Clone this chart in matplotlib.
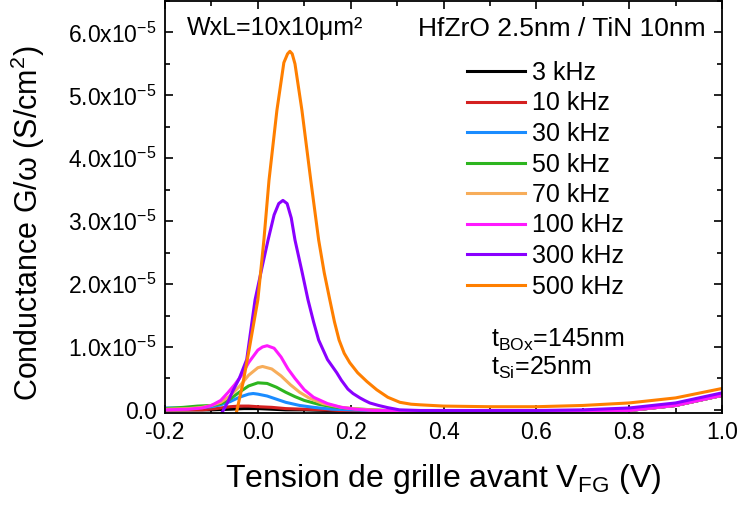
import matplotlib
matplotlib.use("Agg")
import matplotlib.pyplot as plt
from matplotlib.ticker import MultipleLocator, FuncFormatter

plt.rcParams['font.family'] = ['Liberation Sans', 'DejaVu Sans']
plt.rcParams['mathtext.fontset'] = 'custom'
plt.rcParams['mathtext.rm'] = 'Liberation Sans'
plt.rcParams['mathtext.it'] = 'Liberation Sans:italic'
plt.rcParams['mathtext.bf'] = 'Liberation Sans:bold'

# G/omega in units of 1e-5 S/cm2
labels = ['3 kHz', '10 kHz', '30 kHz', '50 kHz', '70 kHz', '100 kHz', '300 kHz', '500 kHz']
colors = ['#000000', '#d42020', '#1a8cff', '#2db51f', '#f7ad5a', '#ff19ff', '#8a00ff', '#ff7f00']

tail_v = [0.4, 0.5, 0.6, 0.7, 0.8, 0.9, 1.0]
tail_low = [-0.02, -0.02, -0.02, -0.02, -0.01, 0.07, 0.23]

v_3k = [-0.2, -0.1, -0.06, -0.03, 0.0, 0.03, 0.06, 0.1, 0.2, 0.3] + tail_v
g_3k = [0.0, 0.0, 0.01, 0.02, 0.02, 0.01, 0.0, 0.0, -0.02, -0.02] + tail_low

v_10k = [-0.2, -0.12, -0.09, -0.06, -0.04, -0.02, 0.0, 0.03, 0.06, 0.1, 0.15, 0.2, 0.3] + tail_v
g_10k = [0.0, 0.0, 0.02, 0.05, 0.06, 0.06, 0.05, 0.04, 0.02, 0.01, 0.0, -0.02, -0.02] + tail_low

v_30k = [-0.2, -0.15, -0.12, -0.1, -0.08, -0.06, -0.04, -0.02, -0.01, 0.0, 0.02, 0.04, 0.06,
         0.09, 0.12, 0.16, 0.2, 0.3] + tail_v
g_30k = [0.03, 0.03, 0.04, 0.05, 0.08, 0.13, 0.2, 0.25, 0.26, 0.25, 0.22, 0.17, 0.12,
         0.07, 0.04, 0.01, 0.0, -0.02] + tail_low

v_50k = [-0.2, -0.16, -0.13, -0.1, -0.08, -0.06, -0.04, -0.02, 0.0, 0.02, 0.04, 0.06,
         0.08, 0.1, 0.13, 0.16, 0.2, 0.25, 0.3] + tail_v
g_50k = [0.02, 0.04, 0.06, 0.07, 0.1, 0.17, 0.28, 0.38, 0.43, 0.42, 0.36, 0.28,
         0.21, 0.15, 0.09, 0.05, 0.02, 0.0, -0.02] + tail_low

v_70k = [-0.2, -0.15, -0.12, -0.1, -0.08, -0.06, -0.04, -0.02, 0.0, 0.01, 0.03, 0.05,
         0.07, 0.09, 0.11, 0.14, 0.18, 0.22, 0.3] + tail_v
g_70k = [0.01, 0.02, 0.04, 0.07, 0.12, 0.22, 0.37, 0.55, 0.67, 0.69, 0.65, 0.54,
         0.4, 0.28, 0.19, 0.1, 0.04, 0.01, -0.02] + tail_low

v_100k = [-0.2, -0.15, -0.12, -0.1, -0.08, -0.065, -0.05, -0.035, -0.02, 0.0, 0.01, 0.02, 0.035,
          0.05, 0.065, 0.08, 0.1, 0.12, 0.15, 0.18, 0.21, 0.25, 0.3] + tail_v
g_100k = [0.0, 0.01, 0.03, 0.07, 0.15, 0.27, 0.4, 0.55, 0.75, 0.95, 1.0, 1.02, 0.98,
          0.84, 0.65, 0.5, 0.32, 0.2, 0.1, 0.04, 0.01, -0.01, -0.01] + tail_low

v_300k = [-0.09, -0.077, -0.065, -0.056, -0.04, -0.024, -0.006, 0.01, 0.022, 0.035, 0.045,
          0.054, 0.063, 0.072, 0.08, 0.095, 0.108, 0.12, 0.131, 0.15, 0.17, 0.18, 0.194,
          0.205, 0.22, 0.23, 0.241, 0.26, 0.28, 0.305, 0.35, 0.4, 0.5, 0.6, 0.7, 0.8, 0.9, 1.0]
g_300k = [-0.2, -0.04, 0.12, 0.27, 0.5, 0.8, 1.75, 2.3, 2.7, 3.1, 3.28,
          3.33, 3.28, 3.05, 2.7, 2.2, 1.75, 1.4, 1.11, 0.8, 0.59, 0.47, 0.33,
          0.26, 0.19, 0.15, 0.11, 0.07, 0.035, 0.0, -0.01, -0.01, -0.01, -0.01, 0.0, 0.03, 0.11, 0.27]

v_500k = [-0.06, -0.047, -0.032, -0.019, 0.0, 0.013, 0.024, 0.041, 0.056, 0.064, 0.069,
          0.074, 0.08, 0.095, 0.114, 0.131, 0.143, 0.155, 0.165, 0.175, 0.186, 0.198, 0.215,
          0.235, 0.256, 0.28, 0.306, 0.33, 0.35, 0.4, 0.5, 0.6, 0.7, 0.8, 0.9, 1.0]
g_500k = [-0.3, -0.07, 0.43, 0.95, 1.75, 2.7, 3.65, 4.76, 5.52, 5.66, 5.7,
          5.66, 5.5, 4.76, 3.65, 2.7, 2.18, 1.75, 1.4, 1.11, 0.9, 0.75, 0.59,
          0.45, 0.32, 0.2, 0.12, 0.09, 0.08, 0.06, 0.05, 0.05, 0.07, 0.11, 0.19, 0.34]

volts = [v_3k, v_10k, v_30k, v_50k, v_70k, v_100k, v_300k, v_500k]
conds = [g_3k, g_10k, g_30k, g_50k, g_70k, g_100k, g_300k, g_500k]

fig = plt.figure(figsize=(7.41, 5.09), dpi=100)
ax = fig.add_axes([0.2227, 0.1886, 0.7517, 0.8094])

for v, g, lab, c in zip(volts, conds, labels, colors):
    ax.plot(v, [x * 1e-5 for x in g], color=c, lw=2.2, label=lab)

ax.set_xlim(-0.2, 1.0)
ax.set_ylim(-0.05e-5, 6.5e-5)
ax.xaxis.set_major_locator(MultipleLocator(0.2))
ax.xaxis.set_minor_locator(MultipleLocator(0.1))
ax.yaxis.set_major_locator(MultipleLocator(1e-5))
ax.yaxis.set_minor_locator(MultipleLocator(0.5e-5))


def yfmt(val, pos):
    n = val / 1e-5
    if abs(n) < 1e-9:
        return '0.0'
    return '%.1fx10$^{-5}$' % n


ax.yaxis.set_major_formatter(FuncFormatter(yfmt))
ax.xaxis.set_major_formatter(FuncFormatter(lambda v, p: '%.1f' % v))
ax.tick_params(which='both', direction='in', top=True, right=True, width=1.2)
ax.tick_params(which='major', length=6, labelsize=16.5, pad=6)
ax.tick_params(which='minor', length=3.5)
for s in ax.spines.values():
    s.set_linewidth(1.3)

ax.set_xlabel('Tension de grille avant V$_{\\mathrm{FG}}$ (V)', fontsize=23, labelpad=13)
ax.set_ylabel('Conductance G/\u03c9 (S/cm$^2$)', fontsize=22)
ax.yaxis.set_label_coords(-0.212, 0.46)

ax.legend(loc='upper left', bbox_to_anchor=(457 / 741, (509 - 51) / 509),
          bbox_transform=fig.transFigure, frameon=False, fontsize=18,
          handlelength=2.32, handletextpad=0.28, labelspacing=0.26, borderaxespad=0)

ax.text(187, 509 - 35, 'WxL=10x10\u03bcm\u00b2', transform=None, fontsize=18, va='baseline')
ax.text(418, 509 - 36, 'HfZrO 2.5nm / TiN 10nm', transform=None, fontsize=19, va='baseline')
ax.text(491, 509 - 347, 't$_{\\mathrm{BOx}}$=145nm', transform=None, fontsize=18, va='baseline')
ax.text(491, 509 - 375, 't$_{\\mathrm{Si}}$=25nm', transform=None, fontsize=18, va='baseline')

fig.savefig('out.png', dpi=100)
